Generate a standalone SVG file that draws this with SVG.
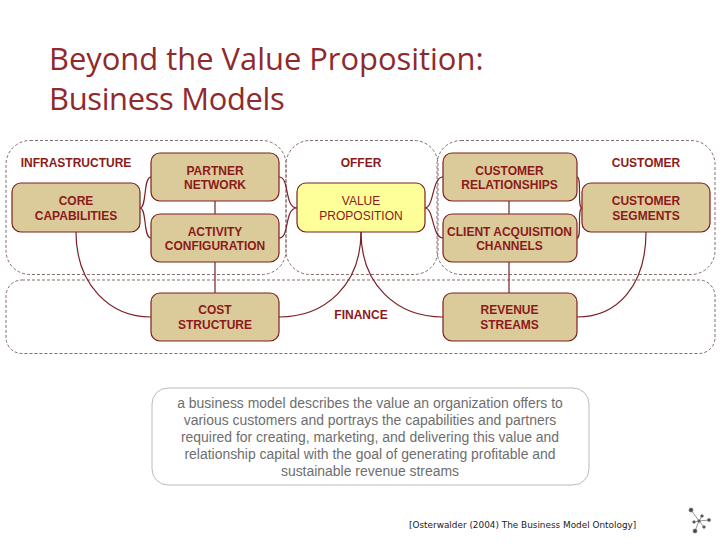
<svg xmlns="http://www.w3.org/2000/svg" width="728" height="546" viewBox="0 0 728 546">
<style>
.t{font-family:"Open Sans","DejaVu Sans",sans-serif;font-size:30.900px;fill:#8f2a2c}
.z{fill:none;stroke:#7a5a5a;stroke-width:0.900;stroke-dasharray:3 2}
.c{fill:none;stroke:#7c2126;stroke-width:1.200}
.n{fill:#dccb9a;stroke:#7c1f1f;stroke-width:1.200}
.l{font-family:"Liberation Sans",Arial,sans-serif;font-size:12px;font-weight:bold;fill:#8b1a1a;text-anchor:middle}
.v{font-family:"Liberation Sans",Arial,sans-serif;font-size:12px;fill:#8b1a1a;text-anchor:middle}
.b{font-family:"Liberation Sans",Arial,sans-serif;font-size:13.950px;fill:#6e6e6e;text-anchor:middle}
</style>
<rect width="728" height="546" fill="#fff"/>
<text class="t" x="49" y="70">Beyond the Value Proposition:</text>
<text class="t" x="49" y="110" letter-spacing="-0.330">Business Models</text>
<g id="zones">
<rect class="z" x="6" y="140.500" width="280" height="134" rx="24"/>
<rect class="z" x="286" y="140.500" width="152" height="134" rx="24"/>
<rect class="z" x="437" y="140.500" width="278" height="134" rx="24"/>
<rect class="z" x="6" y="280" width="709" height="73.500" rx="16"/>
</g>
<g id="connectors">
<path class="c" d="M215 201V214M215 262V293M509 201V214M509 262V293"/>
<path class="c" d="M140 208C147 208 143 177 151 177M140 208C147 208 143 238 151 238"/>
<path class="c" d="M279 177C290 177 284 208 297 208M279 238C290 238 284 208 297 208"/>
<path class="c" d="M425 208C434 208 432 177 443 177M425 208C434 208 432 238 443 238"/>
<path class="c" d="M577 177C582 177 577 208 582 208M577 238C582 238 577 208 582 208"/>
<path class="c" d="M76 232C76 285 110 317 151 317"/>
<path class="c" d="M279 317C325 317 361 285 361 232"/>
<path class="c" d="M361 232C361 285 397 317 443 317"/>
<path class="c" d="M577 317C618 317 646 285 646 232"/>
</g>
<g id="core-capabilities"><rect class="n" x="12" y="183" width="128" height="49" rx="9"/><text class="l" x="76" y="205">CORE</text><text class="l" x="76" y="220">CAPABILITIES</text></g>
<g id="partner-network"><rect class="n" x="151" y="153" width="128" height="48" rx="9"/><text class="l" x="215" y="175">PARTNER</text><text class="l" x="215" y="189">NETWORK</text></g>
<g id="activity-configuration"><rect class="n" x="151" y="214" width="128" height="48" rx="9"/><text class="l" x="215" y="236">ACTIVITY</text><text class="l" x="215" y="250">CONFIGURATION</text></g>
<g id="value-proposition"><rect x="297" y="183" width="128" height="49" rx="9" fill="#ffff99" stroke="#7c1f1f" stroke-width="1.200"/><text class="v" x="361" y="205">VALUE</text><text class="v" x="361" y="220">PROPOSITION</text></g>
<g id="customer-relationships"><rect class="n" x="443" y="153" width="134" height="48" rx="9"/><text class="l" x="509.500" y="175">CUSTOMER</text><text class="l" x="509.500" y="189">RELATIONSHIPS</text></g>
<g id="client-acquisition-channels"><rect class="n" x="443" y="214" width="134" height="48" rx="9"/><text class="l" x="509.500" y="236">CLIENT ACQUISITION</text><text class="l" x="509.500" y="250">CHANNELS</text></g>
<g id="customer-segments"><rect class="n" x="582" y="183" width="128" height="49" rx="9"/><text class="l" x="646" y="205">CUSTOMER</text><text class="l" x="646" y="220">SEGMENTS</text></g>
<g id="cost-structure"><rect class="n" x="151" y="293" width="128" height="48" rx="9"/><text class="l" x="215" y="314">COST</text><text class="l" x="215" y="329">STRUCTURE</text></g>
<g id="revenue-streams"><rect class="n" x="443" y="293" width="134" height="48" rx="9"/><text class="l" x="509.500" y="314">REVENUE</text><text class="l" x="509.500" y="329">STREAMS</text></g>
<g id="labels">
<text class="l" x="76" y="167">INFRASTRUCTURE</text>
<text class="l" x="361" y="167">OFFER</text>
<text class="l" x="646" y="167">CUSTOMER</text>
<text class="l" x="361" y="319">FINANCE</text>
</g>
<g id="description">
<rect x="152" y="388" width="437" height="97" rx="16" fill="#fff" stroke="#bbb"/>
<text class="b" x="370" y="408">a business model describes the value an organization offers to</text>
<text class="b" x="370" y="425">various customers and portrays the capabilities and partners</text>
<text class="b" x="370" y="442">required for creating, marketing, and delivering this value and</text>
<text class="b" x="370" y="459">relationship capital with the goal of generating profitable and</text>
<text class="b" x="370" y="476">sustainable revenue streams</text>
</g>
<text x="409" y="528" font-family="'DejaVu Sans',sans-serif" font-size="8.900" fill="#222">[Osterwalder (2004) The Business Model Ontology]</text>
<g id="logo" stroke="#777" stroke-width="0.800" fill="#444">
<path d="M691 510L699 521M699 521L695 531M699 521L709 520M699 521L702 516M699 521L694 522M699 521L704 527" fill="none"/>
<circle cx="691" cy="510" r="2"/><circle cx="695" cy="531" r="2"/><circle cx="709" cy="520" r="1.500"/><circle cx="702" cy="516" r="1.300"/><circle cx="694" cy="522" r="1.300"/><circle cx="704" cy="527" r="1.300"/><circle cx="699" cy="521" r="1.300"/>
</g>
</svg>
